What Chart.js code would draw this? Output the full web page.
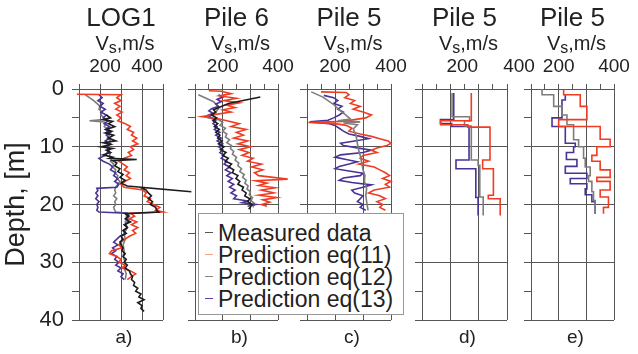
<!DOCTYPE html>
<html>
<head>
<meta charset="utf-8">
<script src="https://cdn.jsdelivr.net/npm/chart.js@4.4.1/dist/chart.umd.min.js"></script>
<style>
  body { margin: 0; background: #fff; }
  #fig { position: relative; width: 638px; height: 354px; overflow: hidden; font-family: "Liberation Sans", Arial, sans-serif; color: #222; }
  .cv { position: absolute; top: 0; }
  .ttl, .vs, .lbl { position: absolute; width: 140px; text-align: center; white-space: nowrap; }
  .ttl { top: 1px; font-size: 26px; line-height: 32px; }
  .vs { top: 31px; font-size: 20px; line-height: 24px; }
  .vs sub { font-size: 0.8em; vertical-align: -3px; }
  .lbl { top: 325px; font-size: 19px; line-height: 24px; }
  #legend { position: absolute; left: 198px; top: 213px; width: 204px; height: 100px; background: #fff; border: 1px solid #999; z-index: 10; }
  #legend div { position: absolute; left: 19px; font-size: 23px; line-height: 22px; white-space: nowrap; }
  #legend span { position: absolute; left: -13px; top: 10px; width: 8px; height: 0; border-top: 1.5px solid; }
</style>
</head>
<body>
<div id="fig">
  <div id="legend"></div>
</div>
<script>
// --- colours
const BLACK = '#1c1c1c';
const RED = '#f03c22';
const GRAY = '#7d7d7d';
const BLUE = '#4a3296';

// --- a) LOG1  (depth in m, Vs in m/s)
const aMeasDepth = [4.5,5,5.3,5.6,6,6.5,7,7.3,7.6,8,8.5,9,9.3,9.6,10,10.3,10.6,11,11.4,11.8,12.0,12.2,12.4,12.8,13.3,13.8,14.3,14.8,15.3,15.8,16.3,16.8,17.8,17.0,17.5,18,18.5,19,19.5,20,20.5,21,21.3,21.6,22,22.5,23,23.5,24,24.5,25,25.5,26,26.5,27,27.5,28,28.5,29,29.5,30,30.5,31,31.5,32,32.5,33,33.5,34,34.5,35,35.5,36,36.5,37,37.5,38,38.5];
const aMeasVs    = [230,250,215,260,240,270,230,255,225,265,240,275,215,250,205,260,230,250,215,260,245,375,260,280,270,295,285,310,295,320,300,330,635,390,420,430,445,430,450,440,465,470,480,320,335,320,345,315,330,310,325,300,310,295,300,310,305,320,310,325,315,330,320,340,345,355,350,365,360,380,370,395,385,410,380,400,395,410];
const aEq11Depth = [0.9,1.0,1.5,2,2.5,3,3.5,4,4.5,5,5.5,6,6.5,7,7.5,8,8.5,9,9.5,10,10.5,11,11.5,12,12.5,13,13.5,14,14.5,15,15.5,16,16.5,17,17.5,18,18.5,19,19.5,20,20.5,21,21.3,21.5,22,22.5,23,23.5,24,24.5,25,25.5,26,26.5,27,27.5,28,28.5,29,29.5,30,30.5,31,31.5,32,32.5,33];
const aEq11Vs    = [90,300,280,300,270,295,275,305,280,300,285,320,345,330,360,350,375,355,380,345,360,335,350,315,290,310,330,315,340,325,345,320,300,315,405,420,410,440,425,455,485,465,500,345,365,340,375,350,380,355,370,340,320,300,290,305,255,245,280,300,290,320,305,345,370,350,330];
const aEq12Depth = [1.0,1.5,2,2.5,3,3.5,4,4.5,5,5.3,5.5,5.7,6,6.5,7,7.5,8,8.5,9,9.5,10,10.5,11,11.5,12,12.5,13,13.5,14,14.5,15,15.5,16,16.5,17,17.5,18,18.5,19,19.5,20,20.5,21,21.3,21.5,22,22.5,23,24,25,26,27,28,29,30,31,32,33];
const aEq12Vs    = [130,150,170,185,200,195,210,205,220,215,150,220,230,220,240,230,245,235,250,240,245,235,250,245,255,250,265,260,275,270,285,280,295,285,275,270,275,265,280,270,275,265,270,275,330,325,335,320,330,315,320,310,315,310,320,315,325,320];
const aEq13Depth = [1.0,1.5,2,2.5,3,3.5,4,4.5,5,5.5,6,6.5,7,7.5,8,8.5,9,9.5,10,10.5,11,11.5,12,12.5,13,13.5,14,14.5,15,15.5,16,16.5,17,17.2,17.6,18,18.5,19,19.5,20,20.5,21,21.3,21.5,22,22.5,23,23.5,24,24.5,25,25.5,26,26.5,27,27.5,28,28.5,29,29.5,30,30.5,31,31.5,32,32.5,33];
const aEq13Vs    = [195,210,190,215,200,225,205,230,215,240,220,245,225,250,230,245,225,250,230,245,235,225,195,215,245,260,250,275,265,285,270,290,280,185,190,180,190,180,195,185,190,185,195,330,340,325,335,320,330,310,320,295,280,265,285,260,275,255,280,270,290,275,300,285,310,300,315];

// --- b) Pile 6
const bMeasDepth = [1.4,2.5,3.6,4,4.5,5,5.5,6,6.5,7,7.5,8,8.5,9,9.5,10,10.5,11,11.5,12,12.5,13,13.5,14,14.5,15,15.5,16,16.5,17,17.5,18,18.5,19,19.5,20,20.5,20.8];
const bMeasVs    = [336,221,167,175,160,178,165,182,170,188,175,190,182,198,185,205,192,212,200,220,210,232,222,240,235,255,248,262,255,275,270,285,280,298,290,305,300,294];
const bEq11Depth = [0.3,0.4,0.8,1.2,1.6,2,2.4,2.8,3.2,3.6,4,4.4,4.8,5.1,5.5,6,6.5,7,7.5,8,8.5,9,9.5,10,10.5,11,11.5,12,12.5,13,13.5,14,14.5,15,15.6,15.9,16.3,16.7,17.1,17.5,18,18.4,18.8,19.2,19.6,20,20.3];
const bEq11Vs    = [150,195,230,190,250,205,260,215,245,200,230,175,125,180,215,260,230,285,250,275,240,290,255,300,260,295,270,310,290,340,305,345,315,330,435,320,360,330,390,340,385,330,395,345,370,340,360];
const bEq12Depth = [1,1.6,2.2,2.8,3.4,4,4.5,5,5.3,5.8,6.3,6.8,7.3,7.8,8.3,8.8,9.3,9.8,10.3,10.8,11.3,11.8,12.3,12.8,13.3,13.8,14.3,14.8,15.3,15.8,16.3,16.8,17.3,17.8,18.3,18.8,19.3,19.8,20.5];
const bEq12Vs    = [112,140,167,180,185,175,160,150,185,200,190,210,200,215,210,225,215,232,228,240,235,250,245,258,255,268,262,278,272,285,280,292,288,300,296,308,302,314,310];
const bEq13Depth = [1,1.4,1.8,2.2,2.6,3,3.4,3.8,4.2,4.6,5,5.5,6,6.5,7,7.5,8,8.5,9,9.5,10,10.5,11,11.5,12,12.5,13,13.5,14,14.5,15,15.5,16,16.5,17,17.5,18,18.5,19,19.4,19.7,20,20.3];
const bEq13Vs    = [185,200,180,195,175,185,160,150,165,145,160,175,165,180,170,190,175,195,180,200,185,200,190,205,195,215,205,225,210,230,215,235,220,240,225,245,230,250,240,290,270,320,290];

// --- c) Pile 5
const cEq11Depth = [0.5,0.6,1,1.5,2,2.5,3,3.5,4,4.5,5,5.3,5.6,5.8,6.0,6.3,6.8,7.3,7.8,8.2,8.6,9,9.4,9.8,10.2,10.6,11,11.5,12,12.5,13,13.5,14,14.5,15,15.5,16,16.5,17,17.5,18,18.5,19,19.5,20,20.5,21];
const cEq11Vs    = [150,240,250,235,270,255,290,265,300,330,310,270,230,105,200,240,260,250,290,330,360,390,400,385,350,330,350,300,290,320,285,340,360,380,395,370,400,380,395,340,320,360,380,350,370,360,380];
const cEq12Depth = [0.5,1.4,2.6,3.7,4.6,5.2,5.5,5.7,5.9,6.2,6.9,8,8.6,10.3,11.5,12.6,14,15,16,17.2,18.5,20.1,21];
const cEq12Vs    = [115,157,193,217,241,255,210,290,230,280,265,275,277,283,290,295,300,307,305,313,310,315,318];
const cEq13Depth = [1.1,1.5,2,2.5,3,3.5,4,4.5,5,5.4,5.7,6.0,6.3,6.8,7.3,7.8,8.2,8.6,9,9.4,9.8,10.2,10.6,11,11.4,11.8,12.2,12.6,13,13.4,13.8,14.2,14.6,15,15.4,15.8,16.2,16.6,17,17.5,18,18.5,19,19.5,20,20.5,21];
const cEq13Vs    = [160,195,210,195,225,210,230,215,195,175,110,180,200,215,230,250,290,320,270,220,230,280,330,300,220,200,240,280,250,215,200,250,300,290,230,215,260,330,300,260,270,300,290,280,300,290,310];

// --- d) Pile 5 (layer tops, last entry = bottom of profile)
const dEq11Depth = [0.7,5.5,6.2,6.6,12.3,13.8,18.4,19.0,21.9];
const dEq11Vs    = [274,166,262,340,314,352,334,376,376];
const dEq12Depth = [0.7,4.8,5.5,6.4,12.3,13.2,18.7,21.9];
const dEq12Vs    = [206,268,250,274,298,304,316,316];
const dEq13Depth = [0.7,5.3,6.0,6.5,12.3,13.8,18.8,21.9];
const dEq13Vs    = [212,165,205,266,220,290,298,298];

// --- e) Pile 5
const eEq11Depth = [0.1,1.0,3.0,5.3,6.5,8.7,10.0,11.5,12.5,14.0,15.3,16.0,17.5,18.7,20.5,21.6];
const eEq11Vs    = [218,278,302,200,350,386,338,320,350,386,338,386,350,380,362,362];
const eEq12Depth = [0.0,1.0,3.0,4.5,6.2,8.8,10.0,12.0,13.5,15.0,16.0,17.8,19.3,21.6];
const eEq12Vs    = [140,182,212,230,254,272,290,296,314,308,320,326,332,332];
const eEq13Depth = [1.0,1.9,5.0,6.5,9.4,10.0,11.0,12.2,13.4,14.6,15.5,16.4,17.3,18.3,19.5,21.6];
const eEq13Vs    = [224,212,176,224,260,254,228,266,224,302,242,302,296,320,332,332];

const legendLabels = ['Measured data', 'Prediction eq(11)', 'Prediction eq(12)', 'Prediction eq(13)'];
const legendColors = ['#555', '#f6a487', '#8a8a8a', '#5a3fb0'];

const BOX_TOP = 89, BOX_BOTTOM = 320, H = 354;

const panels = [
  { title: 'LOG1', tag: 'a)', left: 79, width: 84, max: 500, step: 100, labelOffset: 5, yLabels: true,
    series: [[aMeasDepth, aMeasVs, BLACK], [aEq11Depth, aEq11Vs, RED], [aEq13Depth, aEq13Vs, BLUE], [aEq12Depth, aEq12Vs, GRAY]] },
  { title: 'Pile 6', tag: 'b)', left: 195, width: 83, max: 400, step: 50, labelOffset: 0,
    series: [[bMeasDepth, bMeasVs, BLACK], [bEq11Depth, bEq11Vs, RED], [bEq13Depth, bEq13Vs, BLUE], [bEq12Depth, bEq12Vs, GRAY]] },
  { title: 'Pile 5', tag: 'c)', left: 307, width: 84, max: 400, step: 50, labelOffset: 0,
    series: [[cEq12Depth, cEq12Vs, GRAY], [cEq11Depth, cEq11Vs, RED], [cEq13Depth, cEq13Vs, BLUE]] },
  { title: 'Pile 5', tag: 'd)', left: 422, width: 85, max: 400, step: 50, labelOffset: 12, stepped: true,
    series: [[dEq11Depth, dEq11Vs, RED], [dEq12Depth, dEq12Vs, GRAY], [dEq13Depth, dEq13Vs, BLUE]] },
  { title: 'Pile 5', tag: 'e)', left: 531, width: 83, max: 400, step: 50, labelOffset: 0, stepped: true,
    series: [[eEq11Depth, eEq11Vs, RED], [eEq12Depth, eEq12Vs, GRAY], [eEq13Depth, eEq13Vs, BLUE]] }
];

Chart.defaults.font.family = '"Liberation Sans", Arial, sans-serif';
Chart.defaults.color = '#222';

const fig = document.getElementById('fig');

function addText(cls, html, center) {
  const el = document.createElement('div');
  el.className = cls;
  el.innerHTML = html;
  el.style.left = (center - 70) + 'px';
  fig.appendChild(el);
}

panels.forEach((p) => {
  const padL = p.yLabels ? p.left : 30;
  const padR = 40;
  const canvas = document.createElement('canvas');
  canvas.className = 'cv';
  canvas.width = padL + p.width + padR;
  canvas.height = H;
  canvas.style.left = (p.left - padL) + 'px';
  fig.insertBefore(canvas, document.getElementById('legend'));

  const center = p.left + p.width / 2;
  addText('ttl', p.title, center);
  addText('vs', 'V<sub>s</sub>,m/s', center + 4);
  addText('lbl', p.tag, center + 3);

  new Chart(canvas, {
    type: 'scatter',
    data: {
      datasets: p.series.map(([depth, vs, color]) => ({
        data: depth.map((d, i) => ({ x: vs[i], y: d })),
        showLine: true,
        borderColor: color,
        borderWidth: 1.6,
        pointRadius: 0,
        stepped: p.stepped ? 'after' : false,
        clip: false
      }))
    },
    options: {
      responsive: false,
      animation: false,
      devicePixelRatio: 1,
      layout: { padding: { top: 50, bottom: H - BOX_BOTTOM, left: 0, right: padR } },
      plugins: { legend: { display: false }, tooltip: { enabled: false } },
      scales: {
        x: {
          type: 'linear',
          position: 'top',
          min: 100,
          max: p.max,
          afterFit(scale) { scale.height = BOX_TOP - 50; },
          ticks: {
            stepSize: p.step,
            autoSkip: false,
            maxRotation: 0,
            padding: 6,
            labelOffset: p.labelOffset,
            font: { size: 19 },
            color: '#222',
            callback: (v) => (v === 200 || v === 400 ? String(v) : '')
          },
          grid: {
            color: (ctx) => (ctx.tick && ctx.tick.value % 100 === 0 ? '#555' : 'rgba(0,0,0,0)'),
            tickColor: '#555',
            tickLength: 5,
            lineWidth: 1
          },
          border: { display: true, color: '#555' }
        },
        y: {
          type: 'linear',
          reverse: true,
          min: 0,
          max: 40,
          afterFit(scale) { scale.width = padL; },
          title: {
            display: !!p.yLabels,
            text: 'Depth, [m]',
            font: { size: 27 },
            color: '#222',
            padding: { top: 0, bottom: 0 }
          },
          ticks: {
            stepSize: 5,
            autoSkip: false,
            padding: 8,
            font: { size: 22 },
            color: '#222',
            callback: (v) => (p.yLabels && v % 10 === 0 ? String(v) : '')
          },
          grid: {
            color: (ctx) => (ctx.tick && ctx.tick.value % 10 === 0 ? '#555' : 'rgba(0,0,0,0)'),
            tickColor: '#555',
            tickLength: 7,
            lineWidth: 1
          },
          border: { display: true, color: '#555' }
        }
      }
    }
  });
});

const legend = document.getElementById('legend');
legendLabels.forEach((label, i) => {
  const row = document.createElement('div');
  row.style.top = (8 + i * 22) + 'px';
  row.innerHTML = '<span style="border-color:' + legendColors[i] + '"></span>' + label;
  legend.appendChild(row);
});
</script>
</body>
</html>
